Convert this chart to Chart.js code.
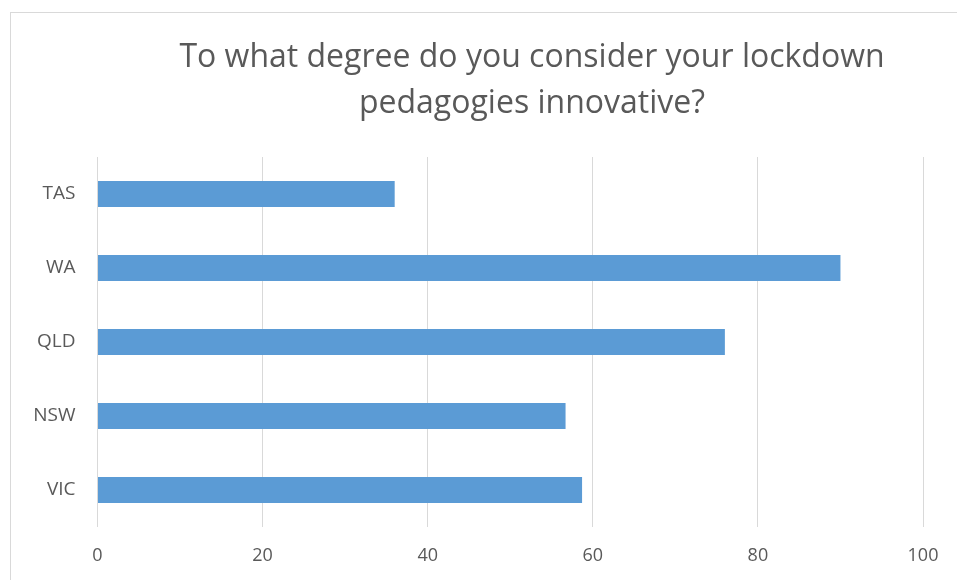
<!DOCTYPE html>
<html>
<head>
<meta charset="utf-8">
<script src="https://cdn.jsdelivr.net/npm/chart.js@4/dist/chart.umd.min.js"></script>
<style>
  html, body { margin: 0; padding: 0; background: #ffffff; overflow: hidden; width: 957px; height: 580px; }
  #frame {
    position: absolute; left: 10px; top: 12px;
    width: 1042px; height: 600px;
    border: 1px solid #d9d9d9;
    background: #ffffff;
  }
  #chart { display: block; }
</style>
</head>
<body>
<div id="frame"><canvas id="chart" width="1042" height="600"></canvas></div>
<script>
// Survey responses by state
const states = ['TAS', 'WA', 'QLD', 'NSW', 'VIC'];
const innovativeScores = [36, 90, 76, 56.7, 58.7];
const xTicks = [0, 20, 40, 60, 80, 100];

const titleLines = ['To what degree do you consider your lockdown', 'pedagogies innovative?'];
const textGrey = '#595959';
const gridGrey = '#d9d9d9';
const fontFamily = "'Open Sans', 'DejaVu Sans', sans-serif";

new Chart(document.getElementById('chart'), {
  type: 'bar',
  data: {
    labels: states,
    datasets: [{
      data: innovativeScores,
      backgroundColor: '#5b9bd5',
      borderWidth: 0,
      categoryPercentage: 1.0,
      barPercentage: 0.35
    }]
  },
  options: {
    indexAxis: 'y',
    responsive: false,
    animation: false,
    layout: { padding: { top: 22, left: 0, right: 0, bottom: 0 } },
    plugins: {
      legend: { display: false },
      tooltip: { enabled: false },
      title: {
        display: true,
        text: titleLines,
        color: textGrey,
        font: { family: fontFamily, size: 32, weight: '400', lineHeight: 46 / 32 },
        padding: { top: 0, bottom: 30 }
      }
    },
    scales: {
      x: {
        min: 0,
        max: 100,
        afterBuildTicks: (axis) => { axis.ticks = xTicks.map(v => ({ value: v })); },
        afterFit: (axis) => { axis.height = 86; },
        grid: { color: gridGrey, lineWidth: 1, drawTicks: false },
        border: { display: false },
        ticks: {
          color: textGrey,
          font: { family: fontFamily, size: 18 },
          padding: 18,
          maxRotation: 0
        }
      },
      y: {
        afterFit: (axis) => { axis.width = 86.5; },
        grid: { display: false, drawTicks: false },
        border: { display: false },
        ticks: {
          color: textGrey,
          font: { family: fontFamily, size: 19 },
          padding: 22
        }
      },
      // empty right-hand gutter of the chart frame
      gutter: {
        type: 'category',
        position: 'right',
        afterFit: (axis) => { axis.width = 130; },
        grid: { display: false, drawTicks: false },
        border: { display: false },
        ticks: { display: false }
      }
    }
  }
});
</script>
</body>
</html>
